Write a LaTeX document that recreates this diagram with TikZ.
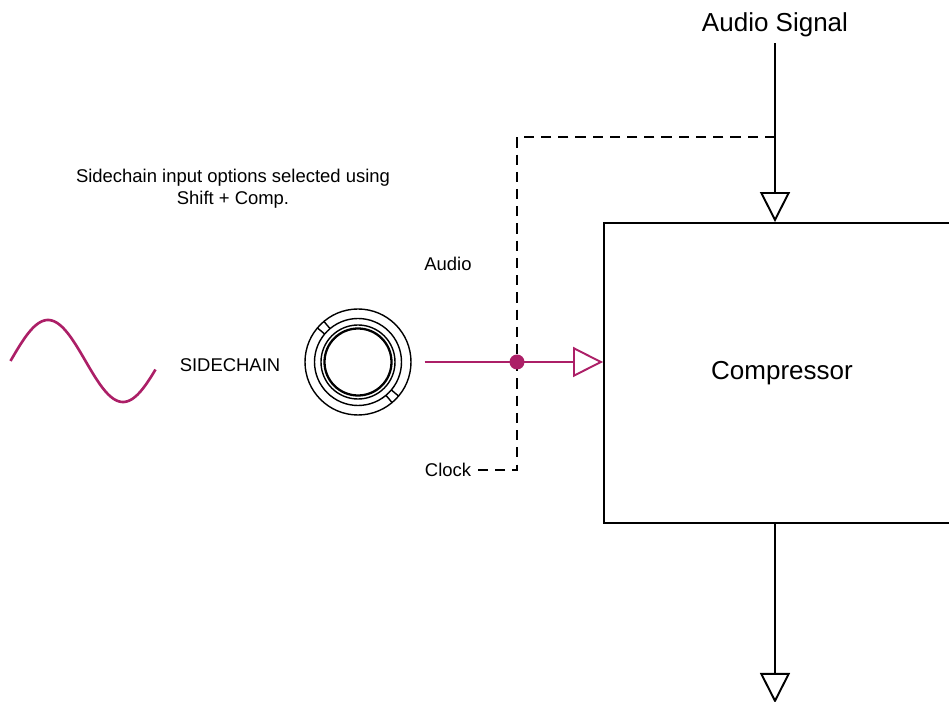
\documentclass[tikz,border=0pt]{standalone}
\usepackage{fontspec}
\setmainfont{Liberation Sans}
\usepackage{tikz}
\usetikzlibrary{positioning}
\usetikzlibrary{arrows.meta}
\definecolor{plum}{RGB}{172,31,103}

\begin{document}
\begin{tikzpicture}[
  wire/.style={line width=1.1pt},
  dashwire/.style={line width=1.6pt,dash pattern=on 5.8pt off 4pt},
  hollow/.style={-{Triangle[open,length=0.6cm,width=0.6cm]}},
  small/.style={font=\fontsize{10.5}{12.5}\selectfont},
  big/.style={font=\fontsize{14.8}{17.8}\selectfont}]
\useasboundingbox (0,0) rectangle (18.98,-14.04);

\draw (15.5,-0.5) node[big] (signal) {Audio Signal};
\draw (15.64,-7.46) node[draw,wire,big,minimum width=7.12cm,minimum height=6cm] (comp) {\raisebox{0.08cm}{Compressor}};
\draw (4.66,-3.78) node[small,align=center] (note) {Sidechain input options selected using\\Shift + Comp.};
\draw (4.6,-7.3) node[small] (sc) {SIDECHAIN};
\draw (8.96,-5.28) node[small] (audio) {Audio};
\draw (8.96,-9.4) node[small] (clock) {Clock};

\coordinate (split) at (15.5,-2.74);
\coordinate (tap) at (10.34,-7.24);
\coordinate (out) at (15.5,-14.06);

\draw[wire] (signal.south) -- (split);
\draw[wire,hollow] (split) -- (split |- comp.north);
\draw[wire,hollow] (split |- comp.south) -- (out);
\draw[dashwire] (split) -| (clock.east -| tap) -- (clock.east);

\draw (7.16,-7.24) node[circle,draw,line width=0.8pt,minimum size=2.12cm] (jack) {};
\draw[line width=0.8pt] (jack.center) circle (0.87);
\draw[line width=0.8pt] (jack.center) circle (0.74);
\draw[line width=1.3pt] (jack.center) circle (0.67);
\foreach \a in {130,140,310,320}
  \draw[line width=0.8pt] (jack.center) ++(\a:0.87) -- ++(\a:0.19);

\draw[plum,wire,hollow] ([xshift=0.26cm]jack.east) -- (jack.east -| comp.west);
\fill[plum] (tap) circle (0.15);

\draw[plum,line width=1.5pt] plot[domain=0:348,samples=80,smooth] ({0.21+\x/360*3},{-7.22+0.82*sin(\x)});

\end{tikzpicture}
\end{document}
